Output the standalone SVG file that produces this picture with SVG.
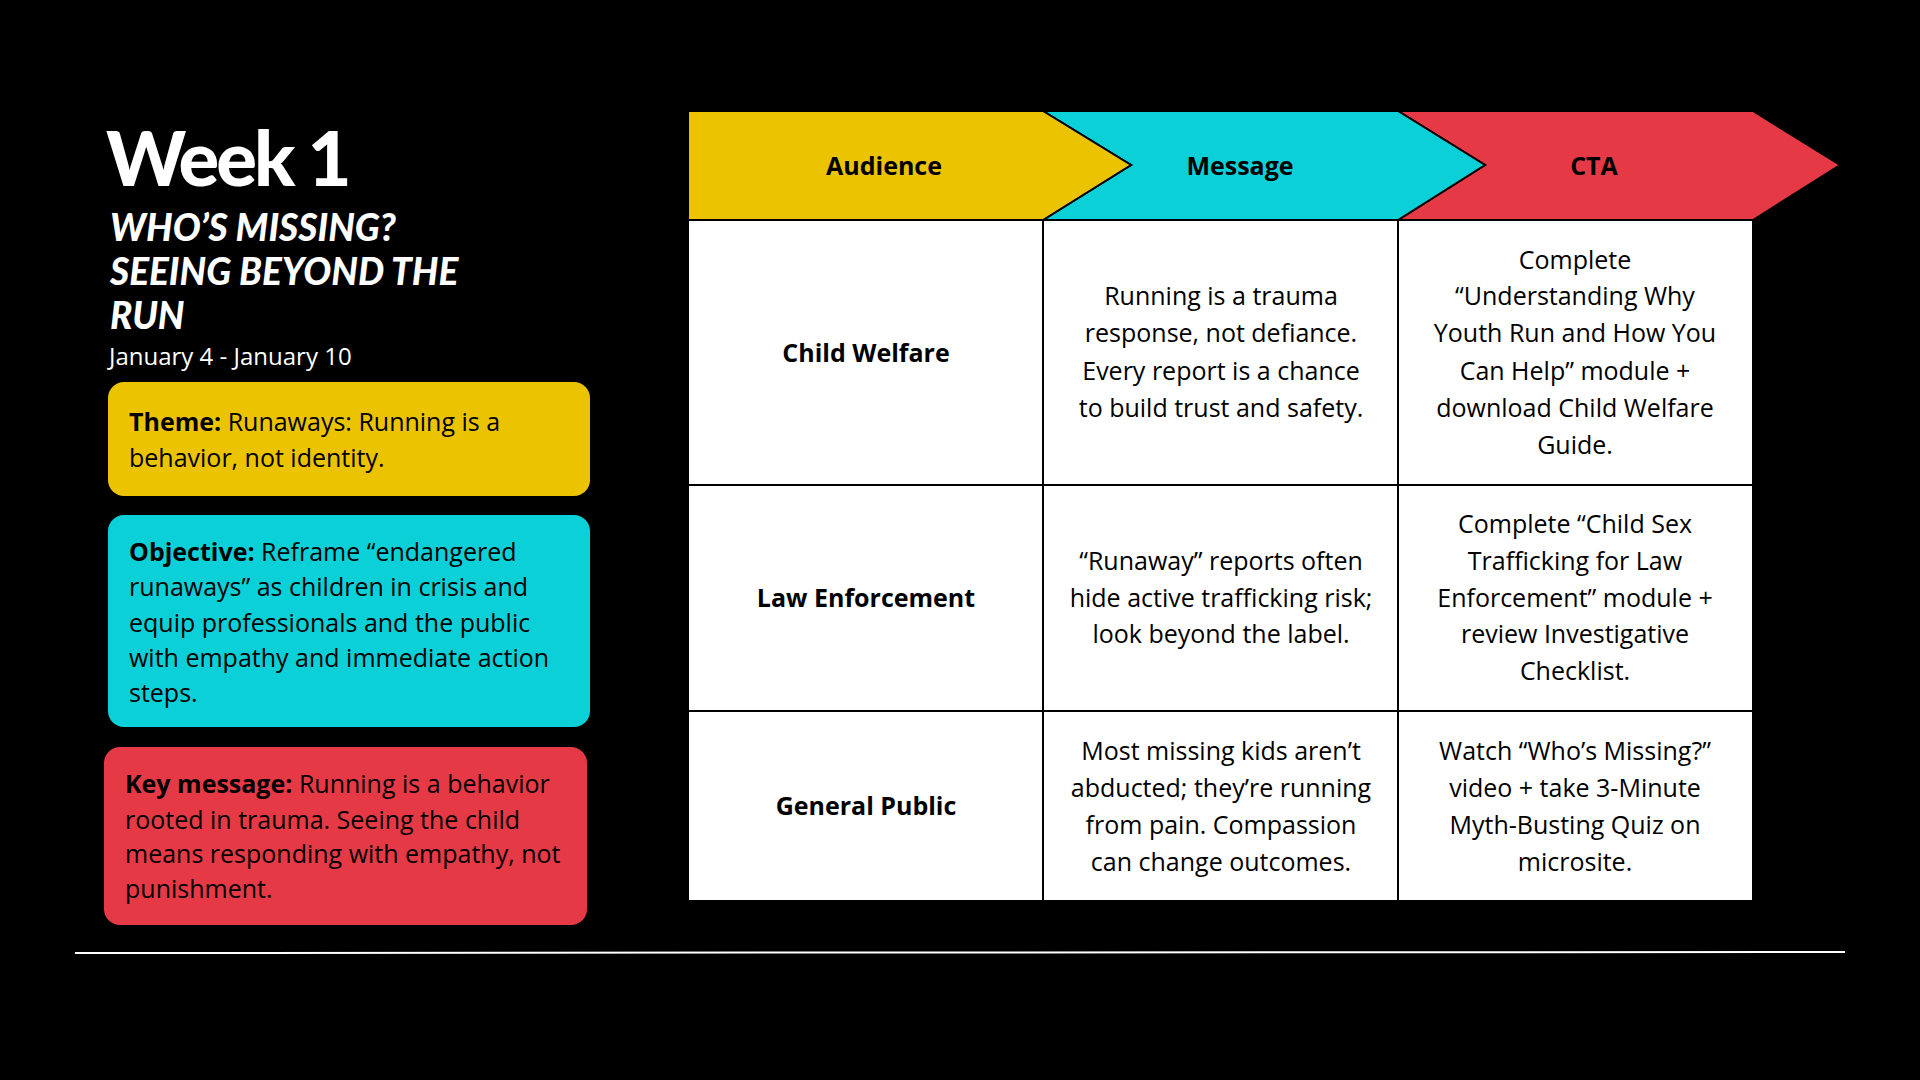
<svg xmlns="http://www.w3.org/2000/svg" width="1920" height="1080" viewBox="0 0 1920 1080">
<style>
.t{font-family:"Open Sans","Liberation Sans",sans-serif;fill:#000;font-size:25px}
.b{font-weight:bold}
.c{text-anchor:middle}
.cell{fill:#fff;stroke:#000;stroke-width:2}
</style>
<rect width="1920" height="1080" fill="#000"/>
<g id="title">
<text x="106" y="186" font-family="Lato,'Liberation Sans',sans-serif" font-weight="900" font-size="76" fill="#fff" letter-spacing="-3">Week 1</text>
<g font-family="Lato,'Liberation Sans',sans-serif" font-weight="900" font-style="italic" font-size="37" fill="#fff">
<text x="110" y="241">WHO’S MISSING?</text>
<text x="110" y="285">SEEING BEYOND THE</text>
<text x="110" y="329">RUN</text>
</g>
<text x="109" y="365" font-family="'Open Sans','Liberation Sans',sans-serif" font-size="24" fill="#fff">January 4 - January 10</text>
</g>
<g id="theme">
<rect x="108" y="382" width="482" height="114" rx="16" fill="#ecc300"/>
<text class="t" x="129" y="431"><tspan class="b">Theme:</tspan> Runaways: Running is a</text>
<text class="t" x="129" y="467">behavior, not identity.</text>
</g>
<g id="objective">
<rect x="108" y="515" width="482" height="212" rx="16" fill="#0cd0d8"/>
<text class="t" x="129" y="561"><tspan class="b">Objective:</tspan> Reframe “endangered</text>
<text class="t" x="129" y="596">runaways” as children in crisis and</text>
<text class="t" x="129" y="632">equip professionals and the public</text>
<text class="t" x="129" y="667">with empathy and immediate action</text>
<text class="t" x="129" y="702">steps.</text>
</g>
<g id="keymessage">
<rect x="104" y="747" width="483" height="178" rx="16" fill="#e63946"/>
<text class="t" x="125" y="793"><tspan class="b">Key message:</tspan> Running is a behavior</text>
<text class="t" x="125" y="829">rooted in trauma. Seeing the child</text>
<text class="t" x="125" y="863">means responding with empathy, not</text>
<text class="t" x="125" y="898">punishment.</text>
</g>
<g id="header">
<polygon points="1398,111 1753,111 1840,165 1753,220 1398,220 1485,165" fill="#e63946" stroke="#000" stroke-width="2"/>
<polygon points="1043,111 1398,111 1485,165 1398,220 1043,220 1131,165" fill="#0cd0d8" stroke="#000" stroke-width="2"/>
<polygon points="688,111 1043,111 1131,165 1043,220 688,220" fill="#ecc300" stroke="#000" stroke-width="2"/>
<text class="t b c" x="884" y="175" font-size="27">Audience</text>
<text class="t b c" x="1240" y="175" font-size="27">Message</text>
<text class="t b c" x="1594" y="175" font-size="27">CTA</text>
</g>
<g id="table">
<rect class="cell" x="688" y="220" width="355" height="265"/>
<rect class="cell" x="1043" y="220" width="355" height="265"/>
<rect class="cell" x="1398" y="220" width="355" height="265"/>
<rect class="cell" x="688" y="485" width="355" height="226"/>
<rect class="cell" x="1043" y="485" width="355" height="226"/>
<rect class="cell" x="1398" y="485" width="355" height="226"/>
<rect class="cell" x="688" y="711" width="355" height="190"/>
<rect class="cell" x="1043" y="711" width="355" height="190"/>
<rect class="cell" x="1398" y="711" width="355" height="190"/>
<g font-size="26">
<text class="t b c" x="866" y="362">Child Welfare</text>
<text class="t c" x="1221" y="305">Running is a trauma</text>
<text class="t c" x="1221" y="342">response, not defiance.</text>
<text class="t c" x="1221" y="380">Every report is a chance</text>
<text class="t c" x="1221" y="417">to build trust and safety.</text>
<text class="t c" x="1575" y="269">Complete</text>
<text class="t c" x="1575" y="305">“Understanding Why</text>
<text class="t c" x="1575" y="342">Youth Run and How You</text>
<text class="t c" x="1575" y="380">Can Help” module +</text>
<text class="t c" x="1575" y="417">download Child Welfare</text>
<text class="t c" x="1575" y="454">Guide.</text>
<text class="t b c" x="866" y="607">Law Enforcement</text>
<text class="t c" x="1221" y="570">“Runaway” reports often</text>
<text class="t c" x="1221" y="607">hide active trafficking risk;</text>
<text class="t c" x="1221" y="643">look beyond the label.</text>
<text class="t c" x="1575" y="533">Complete “Child Sex</text>
<text class="t c" x="1575" y="570">Trafficking for Law</text>
<text class="t c" x="1575" y="607">Enforcement” module +</text>
<text class="t c" x="1575" y="643">review Investigative</text>
<text class="t c" x="1575" y="680">Checklist.</text>
<text class="t b c" x="866" y="815">General Public</text>
<text class="t c" x="1221" y="760">Most missing kids aren’t</text>
<text class="t c" x="1221" y="797">abducted; they’re running</text>
<text class="t c" x="1221" y="834">from pain. Compassion</text>
<text class="t c" x="1221" y="871">can change outcomes.</text>
<text class="t c" x="1575" y="760">Watch “Who’s Missing?”</text>
<text class="t c" x="1575" y="797">video + take 3-Minute</text>
<text class="t c" x="1575" y="834">Myth-Busting Quiz on</text>
<text class="t c" x="1575" y="871">microsite.</text>
</g>
</g>
<line x1="75" y1="953" x2="1845" y2="952" stroke="#fff" stroke-width="2"/>
</svg>
